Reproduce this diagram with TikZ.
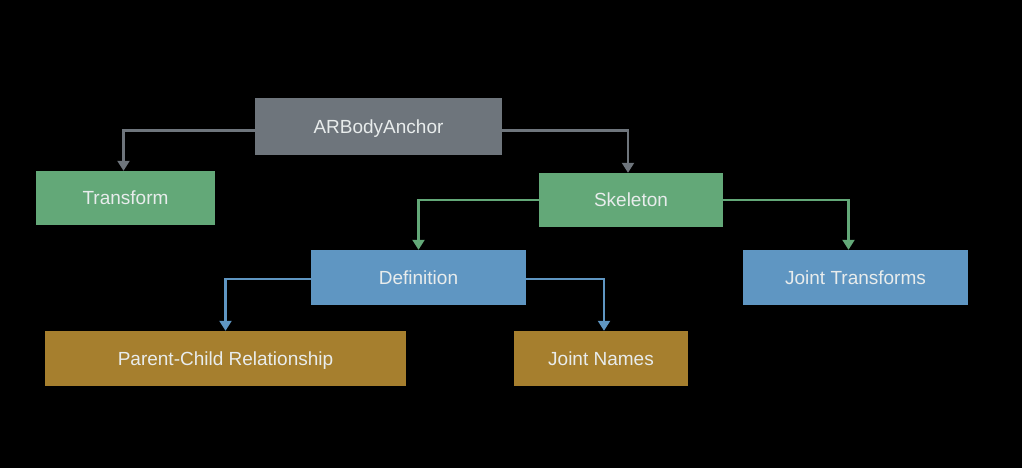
\documentclass[tikz,border=0pt]{standalone}
\usepackage{fontspec}
\setmainfont{Liberation Sans}
\usetikzlibrary{arrows.meta}
\definecolor{bggray}{HTML}{6E757C}
\definecolor{bggreen}{HTML}{63A878}
\definecolor{bgblue}{HTML}{5F96C2}
\definecolor{bggold}{HTML}{A67F2E}
\definecolor{txt}{HTML}{E8ECEC}
\begin{document}
\begin{tikzpicture}[x=1pt,y=-1pt,
  box/.style={draw=none, inner sep=0pt, text=txt, text height=13.6pt, text depth=0pt, font=\fontsize{19}{22}\selectfont},
  conn/.style={line width=2.2pt, -{Triangle[width=12pt,length=10pt]}}]
\fill[black] (0,0) rectangle (1022,468);
\useasboundingbox (0,0) rectangle (1022,468);
\node[box, fill=bggray, minimum width=247pt, minimum height=57pt] (ar) at (378.5,126.5) {ARBodyAnchor};
\node[box, fill=bggreen, minimum width=179pt, minimum height=54pt] (tr) at (125.5,198) {Transform};
\node[box, fill=bggreen, minimum width=184pt, minimum height=54pt] (sk) at (631,200) {Skeleton};
\node[box, fill=bgblue, minimum width=215pt, minimum height=55pt] (de) at (418.5,277.5) {Definition};
\node[box, fill=bgblue, minimum width=225pt, minimum height=55pt] (jt) at (855.5,277.5) {Joint Transforms};
\node[box, fill=bggold, minimum width=361pt, minimum height=55pt] (pc) at (225.5,358.5) {Parent-Child Relationship};
\node[box, fill=bggold, minimum width=174pt, minimum height=55pt] (jn) at (601,358.5) {Joint Names};
\draw[conn, bggray] ([yshift=-4pt]ar.west) -| ([xshift=-2pt]tr.north);
\draw[conn, bggray] ([yshift=-4pt]ar.east) -| ([xshift=-3pt]sk.north);
\draw[conn, bggreen] (sk.west) -| (de.north);
\draw[conn, bggreen] (sk.east) -| ([xshift=-7pt]jt.north);
\draw[conn, bgblue] ([yshift=-1.5pt]de.west) -| (pc.north);
\draw[conn, bgblue] ([yshift=-1.5pt]de.east) -| ([xshift=3pt]jn.north);
\end{tikzpicture}
\end{document}
